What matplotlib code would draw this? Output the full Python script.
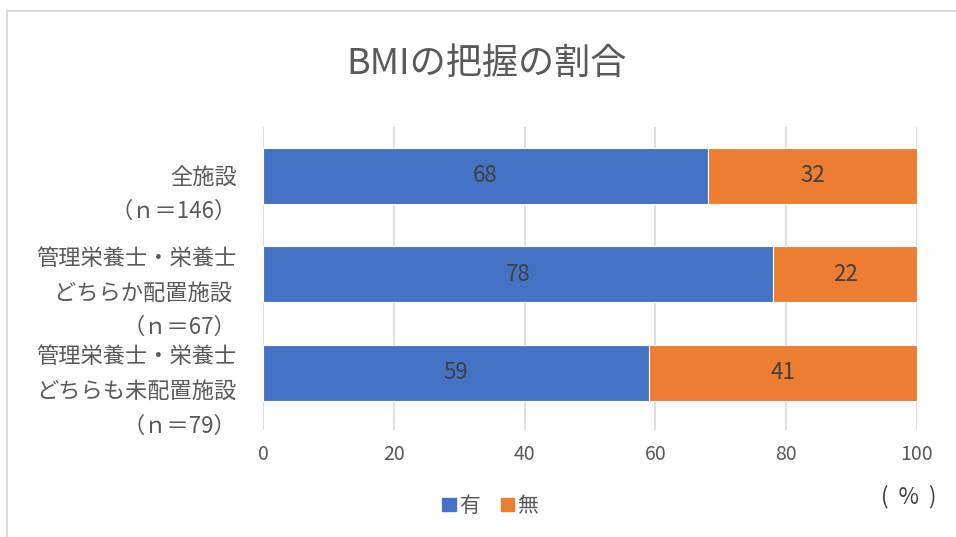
import numpy as np
import matplotlib.pyplot as plt
import matplotlib.transforms as mtransforms
from matplotlib.patches import Rectangle, Patch

plt.rcParams['font.family'] = ['Noto Sans CJK JP', 'DejaVu Sans']

# データ
categories = ['全施設\n（ｎ＝146）',
              '管理栄養士・栄養士\nどちらか配置施設 \n（ｎ＝67）',
              '管理栄養士・栄養士\nどちらも未配置施設\n（ｎ＝79）']
yes_vals = [68, 78, 59]
no_vals = [32, 22, 41]
series_names = ['有', '無']
xticks = [0, 20, 40, 60, 80, 100]

blue = '#4472c4'
orange = '#ed7d31'
txt = '#595959'

fig = plt.figure(figsize=(9.56, 5.37), dpi=100)
ax = fig.add_axes([0.2751, 0.1993, 0.6841, 0.5642])

y = np.arange(len(categories))
b1 = ax.barh(y, yes_vals, height=0.57, color=blue, edgecolor='white', linewidth=0.8, zorder=3)
b2 = ax.barh(y, no_vals, left=yes_vals, height=0.57, color=orange, edgecolor='white', linewidth=0.8, zorder=3)

for bars in (b1, b2):
    ax.bar_label(bars, label_type='center', fontsize=16, color='#404040')

ax.set_xlim(0, 100)
ax.set_ylim(2.58, -0.497)
ax.set_xticks(xticks)
ax.set_xticklabels([str(v) for v in xticks], fontsize=14, color=txt)
ax.set_yticks(y)
ax.set_yticklabels(categories, fontsize=16, color=txt, linespacing=1.65, ha='right')
ax.tick_params(axis='both', length=0)
ax.tick_params(axis='x', pad=10)
ax.tick_params(axis='y', pad=19)
# ラベルを少し下にずらす
off = mtransforms.ScaledTranslation(0, -10 / 100, fig.dpi_scale_trans)
for lab in ax.get_yticklabels():
    lab.set_transform(lab.get_transform() + off)

ax.grid(axis='x', color='#d9d9d9', linewidth=1.2, zorder=0)
for s in ax.spines.values():
    s.set_visible(False)

fig.text(0.509, 0.88, 'BMIの把握の割合', fontsize=26, color=txt, ha='center', va='center')
fig.text(909 / 956, 1 - 497 / 537, '(  %  )', fontsize=16, color='#404040', ha='center', va='center')

handles = [Patch(color=blue), Patch(color=orange)]
fig.legend(handles, series_names, loc='center', bbox_to_anchor=(0.513, 0.058), ncol=2,
           frameon=False, fontsize=15, handlelength=0.65, handleheight=0.65,
           handletextpad=0.15, columnspacing=1.0, labelcolor=txt)

# 外枠
fig.patches.append(Rectangle((6.5 / 956, -0.1), 1.2, 1 - 10.5 / 537 + 0.1,
                             transform=fig.transFigure, fill=False,
                             edgecolor='#d9d9d9', linewidth=1.5, clip_on=False))

fig.savefig('out.png', dpi=100, facecolor='white')
